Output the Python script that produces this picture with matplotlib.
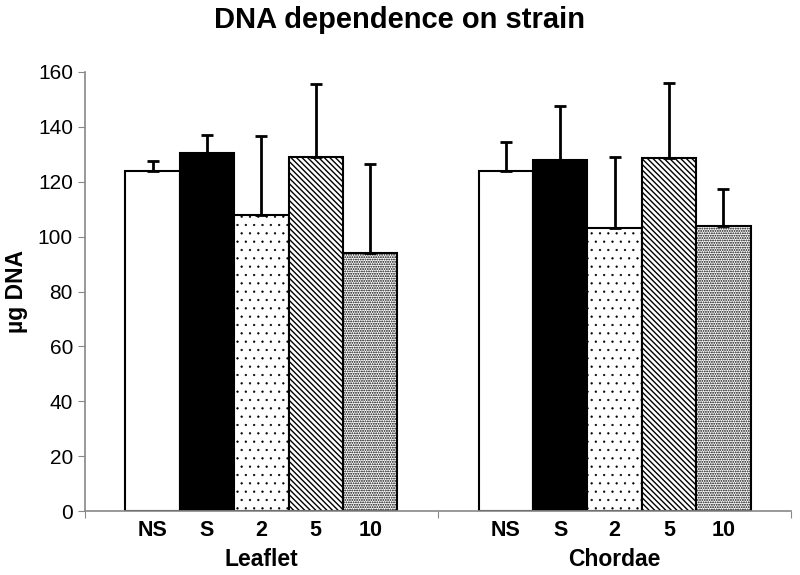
import matplotlib
matplotlib.use("Agg")
import matplotlib.pyplot as plt
import numpy as np

plt.rcParams['font.family'] = ['Liberation Sans', 'DejaVu Sans']

groups = ['Leaflet', 'Chordae']
strains = ['NS', 'S', '2', '5', '10']
leaflet = [124, 130.5, 108, 129, 94]
leaflet_err = [3.5, 6.5, 28.5, 26.5, 32.5]
chordae = [124, 128, 103, 128.5, 104]
chordae_err = [10.5, 19.5, 26, 27.5, 13.5]

faces = ['white', 'black', 'white', 'white', 'white']
hatches = [None, None, '..', '\\\\\\\\\\\\', '.......']
hatch_lw = [1.0, 1.0, 0.4, 1.0, 0.9]

fig = plt.figure(figsize=(8, 5.75), dpi=100)
ax = fig.add_axes([0.106, 0.111, 0.883, 0.764])

w = 0.154
centers = []
for g, (vals, errs) in enumerate([(leaflet, leaflet_err), (chordae, chordae_err)]):
    for j in range(len(strains)):
        x = g + 0.5 + (j - 2) * w
        centers.append(x)
        with plt.rc_context({'hatch.linewidth': hatch_lw[j]}):
            ax.bar(x, vals[j], width=w, color=faces[j], edgecolor='black',
                   hatch=hatches[j], linewidth=1.5, zorder=2)
        ax.errorbar(x, vals[j], yerr=[[0], [errs[j]]], fmt='none', ecolor='black',
                    elinewidth=2, capsize=4.5, capthick=2, zorder=3)

ax.set_xlim(0, 2)
ax.set_ylim(0, 160)
ax.set_yticks(np.arange(0, 161, 20))
ax.set_xticks([0, 1, 2])
ax.set_xticklabels([])
ax.set_xticks(centers, minor=True)
ax.set_xticklabels(strains * 2, minor=True, fontsize=15.5, fontweight='bold')
ax.tick_params(axis='x', which='minor', length=0, pad=6)
ax.tick_params(axis='x', which='major', length=5, color='#888888')
ax.tick_params(axis='y', length=5, color='#888888', labelsize=15)

for g, name in enumerate(groups):
    ax.text(g + 0.5, -0.11, name, transform=ax.get_xaxis_transform(),
            ha='center', va='center', fontsize=16.5, fontweight='bold')

for s in ['top', 'right']:
    ax.spines[s].set_visible(False)
for s in ['left', 'bottom']:
    ax.spines[s].set_color('#888888')
    ax.spines[s].set_linewidth(1.2)

ax.set_ylabel('µg DNA', fontsize=16.5, fontweight='bold', labelpad=7)
fig.suptitle('DNA dependence on strain', fontsize=21, fontweight='bold', y=0.99)

fig.savefig('out.png', dpi=100)
